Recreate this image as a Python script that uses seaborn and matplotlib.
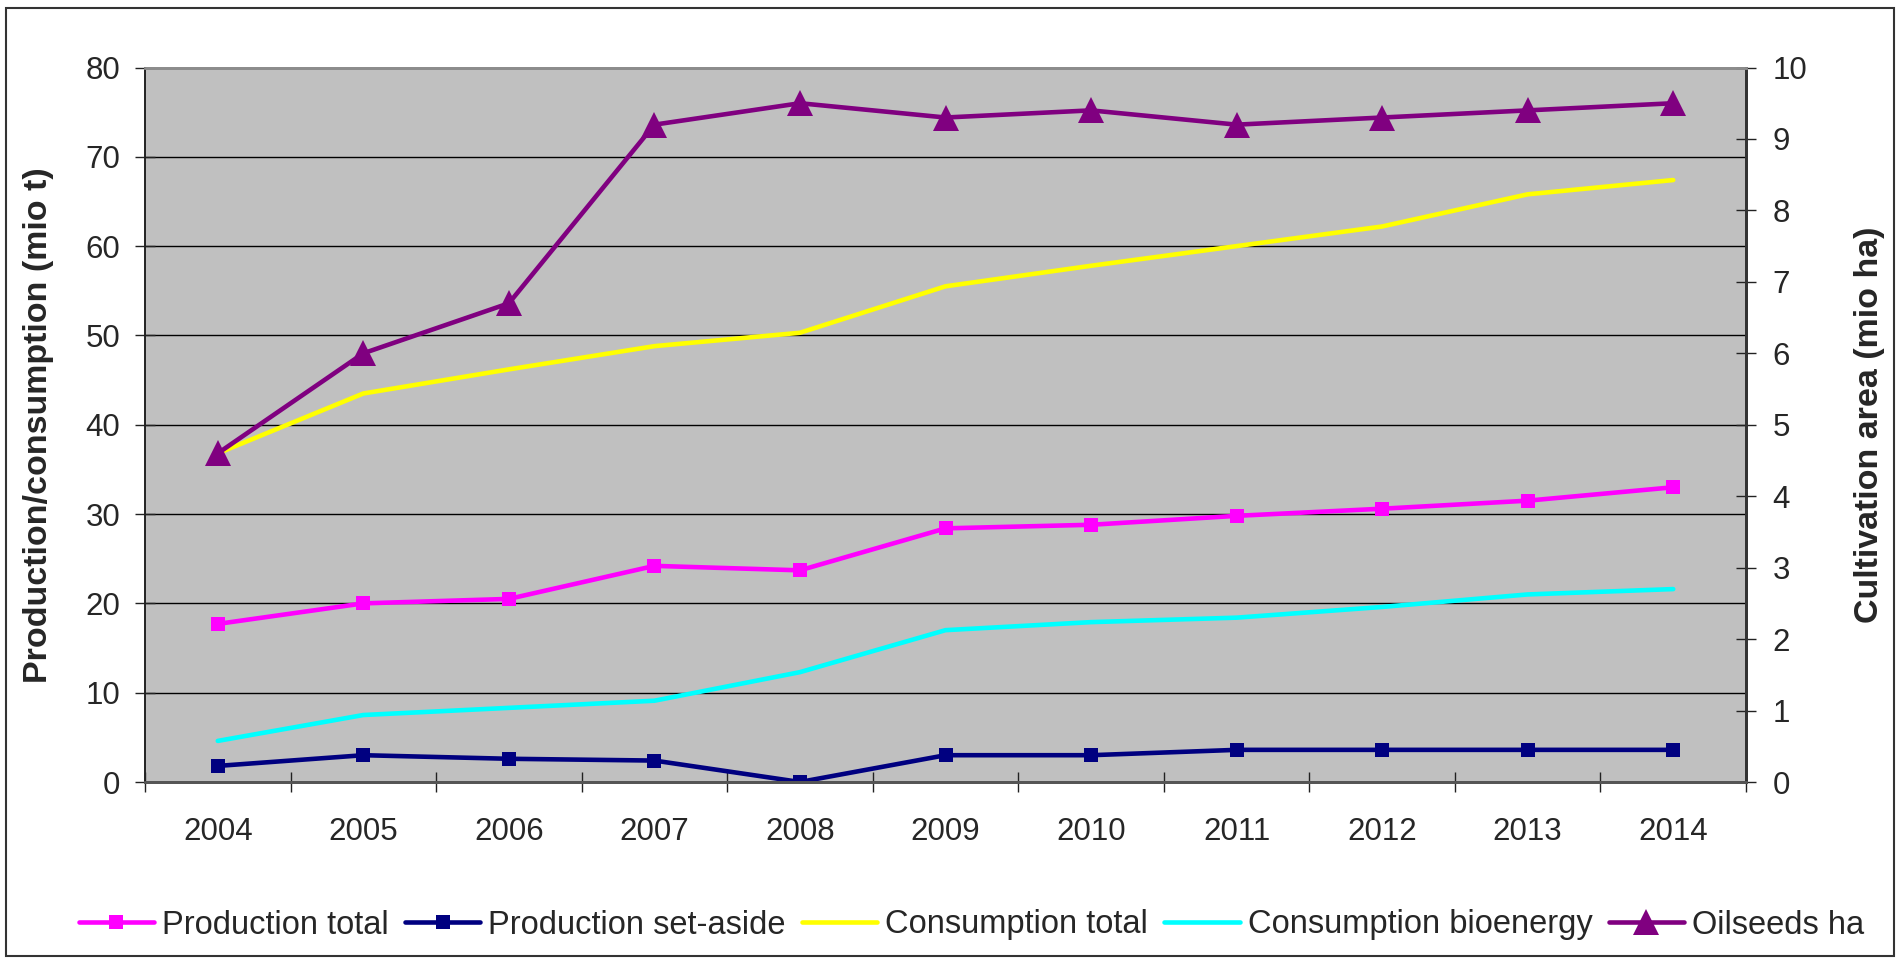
import matplotlib
matplotlib.use("Agg")
import matplotlib.pyplot as plt
from matplotlib.patches import Rectangle
from matplotlib.ticker import FixedLocator
import seaborn as sns
import pandas as pd

# Oilseed market series, 2004-2014
years = [2004, 2005, 2006, 2007, 2008, 2009, 2010, 2011, 2012, 2013, 2014]
production_total = [17.7, 20.0, 20.5, 24.2, 23.7, 28.4, 28.8, 29.8, 30.6, 31.5, 33.0]
production_set_aside = [1.8, 3.0, 2.6, 2.4, 0.0, 3.0, 3.0, 3.6, 3.6, 3.6, 3.6]
consumption_total = [36.8, 43.5, 46.2, 48.8, 50.3, 55.5, 57.8, 60.0, 62.2, 65.8, 67.4]
consumption_bioenergy = [4.6, 7.5, 8.3, 9.1, 12.3, 17.0, 17.9, 18.4, 19.6, 21.0, 21.6]
oilseeds_ha = [4.6, 6.0, 6.7, 9.2, 9.5, 9.3, 9.4, 9.2, 9.3, 9.4, 9.5]

left_ticks = list(range(0, 81, 10))
right_ticks = list(range(0, 11, 1))

df = pd.DataFrame({
    "year": years,
    "Production total": production_total,
    "Production set-aside": production_set_aside,
    "Consumption total": consumption_total,
    "Consumption bioenergy": consumption_bioenergy,
    "Oilseeds ha": oilseeds_ha,
})

sns.set_style("white")
plt.rcParams["font.family"] = ["Liberation Sans", "DejaVu Sans"]

W, H = 1898, 960
fig = plt.figure(figsize=(W / 100, H / 100), dpi=100)
left, right, top, bottom = 145, 1746, 67.5, 782
ax1 = fig.add_axes([left / W, 1 - bottom / H, (right - left) / W, (bottom - top) / H])
ax1.set_facecolor("#C0C0C0")

lw = 3.3
sq = 10.3
styles = [
    ("Production total", "#FF00FF", "s"),
    ("Production set-aside", "#000080", "s"),
    ("Consumption total", "#FFFF00", None),
    ("Consumption bioenergy", "#00FFFF", None),
]
for name, col, mk in styles:
    kw = dict(marker=mk, markersize=sq, markeredgecolor=col, markerfacecolor=col,
              markeredgewidth=0) if mk else {}
    sns.lineplot(data=df, x="year", y=name, ax=ax1, color=col, linewidth=lw,
                 label=name, **kw)

ax2 = ax1.twinx()
sns.lineplot(data=df, x="year", y="Oilseeds ha", ax=ax2, color="#800080", linewidth=lw,
             marker="^", markersize=19, markeredgecolor="#800080",
             markerfacecolor="#800080", markeredgewidth=0, label="Oilseeds ha")

ax1.set_xlim(2003.5, 2014.5)
ax1.set_ylim(0, 80)
ax2.set_ylim(0, 10)
ax1.yaxis.set_major_locator(FixedLocator(left_ticks))
ax2.yaxis.set_major_locator(FixedLocator(right_ticks))
ax1.xaxis.set_major_locator(FixedLocator(years))
ax1.xaxis.set_minor_locator(FixedLocator([y - 0.5 for y in years] + [years[-1] + 0.5]))
ax1.set_xticklabels([str(y) for y in years])

ax1.yaxis.grid(True, color="black", linewidth=1.0)
ax1.xaxis.grid(False)
ax1.set_axisbelow(True)

ax1.tick_params(axis="y", direction="inout", length=14.4, width=1.0, color="#222222",
                labelsize=22.5, pad=10.5, left=True)
ax2.tick_params(axis="y", direction="inout", length=14.4, width=1.0, color="#222222",
                labelsize=22.5, pad=12, right=True)
ax1.tick_params(axis="x", which="major", length=0, labelsize=22.5, pad=25)
ax1.tick_params(axis="x", which="minor", direction="inout", length=14.4, width=1.0,
                color="#222222", bottom=True)

for ax in (ax1, ax2):
    ax.set_xlabel("")
    ax.spines["top"].set_color("#8C8C8C")
    ax.spines["top"].set_linewidth(2)
    ax.spines["left"].set_color("#222222")
    ax.spines["left"].set_linewidth(1.2)
    ax.spines["bottom"].set_color("#555555")
    ax.spines["bottom"].set_linewidth(2)
    ax.spines["right"].set_color("#333333")
    ax.spines["right"].set_linewidth(2)

ax1.set_ylabel("Production/consumption (mio t)", fontsize=24.5, fontweight="bold")
ax2.set_ylabel("Cultivation area (mio ha)", fontsize=24.5, fontweight="bold")
ax1.yaxis.label.set_verticalalignment("center")
ax2.yaxis.label.set_verticalalignment("center")
ax1.yaxis.set_label_coords((39 - left) / (right - left), 0.5)
ax2.yaxis.set_label_coords((1870 - left) / (right - left), 0.5)

h1, l1 = ax1.get_legend_handles_labels()
h2, l2 = ax2.get_legend_handles_labels()
for ax in (ax1, ax2):
    if ax.get_legend() is not None:
        ax.get_legend().remove()
fig.legend(h1 + h2, l1 + l2, loc="center", ncol=5, frameon=False,
           bbox_to_anchor=(971.5 / W, 1 - 925 / H), fontsize=23.5,
           handlelength=2.3, handletextpad=0.25, columnspacing=0.5, borderpad=0.2)

fig.add_artist(Rectangle((6 / W, 1 - 956 / H), (1894 - 6) / W, (956 - 8) / H,
                         transform=fig.transFigure, fill=False,
                         edgecolor="#333333", linewidth=1.5))

fig.savefig("out.png", dpi=100)
